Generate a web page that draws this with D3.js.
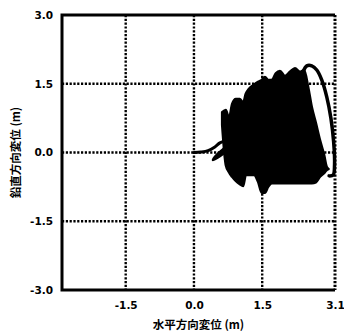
<!DOCTYPE html>
<html>
<head>
<meta charset="utf-8">
<script src="https://cdn.jsdelivr.net/npm/d3@7"></script>
<style>
  body { margin: 0; background: #fff; }
  .tick text { font-family: "DejaVu Sans", sans-serif; font-weight: bold; }
</style>
</head>
<body>
<div id="chart"></div>
<script>
// tick values and labels
const xTicks = [-1.5, 0, 1.5, 3.1];
const xTickLabels = ["-1.5", "0.0", "1.5", "3.1"];
const yTicks = [3.0, 1.5, 0, -1.5, -3.0];
const yTickLabels = ["3.0", "1.5", "0.0", "-1.5", "-3.0"];

// path from the origin into the oscillation
const leadX = [0, 0.15, 0.31, 0.46, 0.57, 0.66, 0.73, 0.66, 0.53, 0.42, 0.53, 0.66, 0.77];
const leadY = [0, 0.01, 0.04, 0.12, 0.21, 0.24, 0.19, 0.08, -0.03, -0.16, -0.10, -0.01, 0.05];

// envelope of the dense oscillation (upper / lower bound)
const blobX = [0.62, 0.70, 0.77, 0.84, 0.92, 1.01, 1.08, 1.14, 1.21, 1.32, 1.41, 1.49, 1.56, 1.63, 1.71,
               1.80, 1.89, 2.00, 2.11, 2.22, 2.33, 2.42, 2.51, 2.59, 2.68, 2.77, 2.86, 2.92, 2.96];
const blobTop = [0.88, 0.93, 0.75, 1.06, 1.17, 1.17, 1.08, 1.28, 1.39, 1.48, 1.54, 1.58, 1.65, 1.58, 1.58,
                 1.73, 1.78, 1.67, 1.76, 1.84, 1.76, 1.80, 1.43, 0.99, 0.64, 0.27, -0.05, -0.32, -0.36];
const blobBottom = [0.60, -0.27, -0.43, -0.53, -0.62, -0.69, -0.73, -0.49, -0.49, -0.49, -0.64, -0.88, -0.88, -0.75, -0.67,
                    -0.67, -0.67, -0.67, -0.67, -0.67, -0.67, -0.67, -0.67, -0.67, -0.65, -0.53, -0.45, -0.38, -0.36];

// outer swing on the right
const arcX = [2.40, 2.48, 2.59, 2.70, 2.81, 2.92, 3.01, 3.07, 3.09, 3.06, 2.97];
const arcY = [1.76, 1.89, 1.89, 1.80, 1.58, 1.21, 0.75, 0.23, -0.27, -0.49, -0.51];

const W = 344, H = 334;
const margin = {top: 15, right: 9, bottom: 44, left: 62};
const width = W - margin.left - margin.right,
      height = H - margin.top - margin.bottom;

const svg = d3.select("#chart").append("svg")
    .attr("width", W).attr("height", H);
const g = svg.append("g")
    .attr("transform", "translate(" + margin.left + "," + margin.top + ")");

const X_SCALE = d3.scaleLinear().domain([-2.9, 3.1]).range([0, width]);
const Y_SCALE = d3.scaleLinear().domain([-3.0, 3.0]).range([height, 0]);

// dotted grid
const dots = "2.2,1.6";
g.append("g").selectAll("line")
    .data(xTicks)
    .enter().append("line")
    .attr("x1", d => X_SCALE(d)).attr("x2", d => X_SCALE(d))
    .attr("y1", 0).attr("y2", height)
    .attr("stroke", "#000")
    .attr("stroke-width", d => d === 3.1 ? 3 : 2.4)
    .attr("stroke-dasharray", dots);
g.append("g").selectAll("line")
    .data(yTicks.filter(d => Math.abs(d) < 3))
    .enter().append("line")
    .attr("x1", 0).attr("x2", width)
    .attr("y1", d => Y_SCALE(d)).attr("y2", d => Y_SCALE(d))
    .attr("stroke", "#000")
    .attr("stroke-width", 2.4)
    .attr("stroke-dasharray", dots);

// oscillation envelope
const blobData = blobX.map((x, i) => ({x: x, top: blobTop[i], bottom: blobBottom[i]}));
g.append("path")
    .datum(blobData)
    .attr("d", d3.area()
        .x(d => X_SCALE(d.x))
        .y0(d => Y_SCALE(d.bottom))
        .y1(d => Y_SCALE(d.top))
        .curve(d3.curveMonotoneX))
    .attr("fill", "#000")
    .attr("stroke", "#000")
    .attr("stroke-width", 2.5)
    .attr("stroke-linejoin", "round");

const line = d3.line()
    .x(d => X_SCALE(d[0]))
    .y(d => Y_SCALE(d[1]))
    .curve(d3.curveCatmullRom);

g.append("path")
    .datum(leadX.map((x, i) => [x, leadY[i]]))
    .attr("d", line)
    .attr("fill", "none")
    .attr("stroke", "#000")
    .attr("stroke-width", 3)
    .attr("stroke-linecap", "round");

g.append("path")
    .datum(arcX.map((x, i) => [x, arcY[i]]))
    .attr("d", line)
    .attr("fill", "none")
    .attr("stroke", "#000")
    .attr("stroke-width", 3.5)
    .attr("stroke-linecap", "round");

// frame: solid left, top, bottom
g.append("path")
    .attr("d", "M" + width + ",0H0V" + height + "H" + width)
    .attr("fill", "none")
    .attr("stroke", "#000")
    .attr("stroke-width", 3);

// axes (labels only)
const xAxis = g.append("g")
    .attr("transform", "translate(0," + height + ")")
    .call(d3.axisBottom(X_SCALE).tickValues(xTicks)
        .tickFormat((d, i) => xTickLabels[i]).tickSize(0).tickPadding(12));
xAxis.select(".domain").remove();
xAxis.selectAll("text").attr("font-size", 10.5).attr("fill", "#000");

const yAxis = g.append("g")
    .call(d3.axisLeft(Y_SCALE).tickValues(yTicks)
        .tickFormat((d, i) => yTickLabels[i]).tickSize(0).tickPadding(9));
yAxis.select(".domain").remove();
yAxis.selectAll("text").attr("font-size", 10.5).attr("fill", "#000");

// axis titles
svg.append("text")
    .attr("x", margin.left + width / 2)
    .attr("y", 329)
    .attr("text-anchor", "middle")
    .attr("font-family", "'Noto Sans CJK JP', sans-serif")
    .attr("font-weight", "bold")
    .attr("font-size", 11.5)
    .text("水平方向変位 (m)");

svg.append("text")
    .attr("transform", "translate(20," + (margin.top + height / 2) + ") rotate(-90)")
    .attr("text-anchor", "middle")
    .attr("font-family", "'Noto Sans CJK JP', sans-serif")
    .attr("font-weight", "bold")
    .attr("font-size", 11.5)
    .text("鉛直方向変位 (m)");
</script>
</body>
</html>
